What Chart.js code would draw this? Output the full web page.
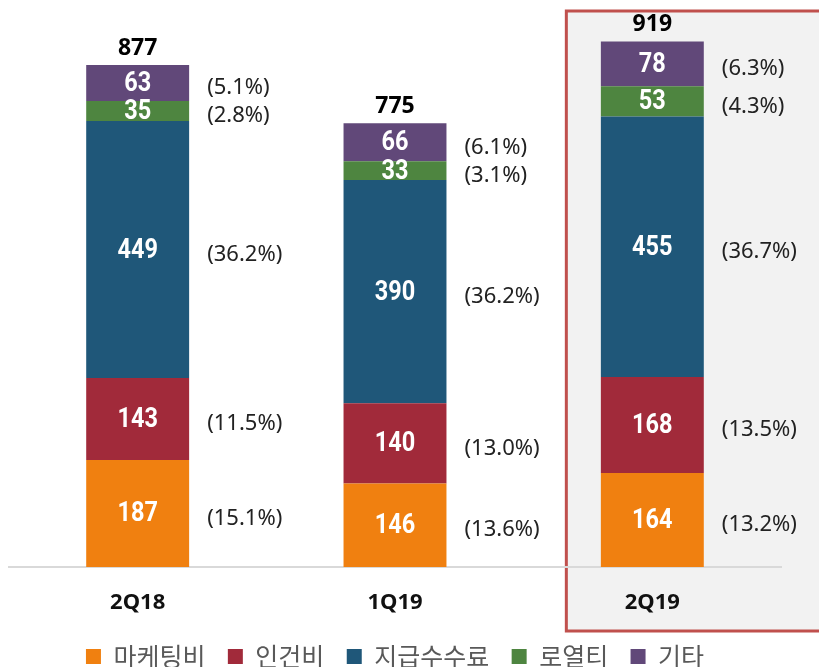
<!DOCTYPE html>
<html>
<head>
<meta charset="utf-8">
<script src="https://cdn.jsdelivr.net/npm/chart.js@4"></script>
<style>
  html, body { margin: 0; padding: 0; background: #fff; }
  #wrap { width: 819px; height: 667px; position: relative; }
</style>
</head>
<body>
<div id="wrap"><canvas id="costChart"></canvas></div>
<script>
// data
const quarters = ['2Q18', '1Q19', '2Q19'];
const marketing = [187, 146, 164];
const labor = [143, 140, 168];
const fees = [449, 390, 455];
const royalty = [35, 33, 53];
const other = [63, 66, 78];
const totals = [877, 775, 919];
const marketingPct = ['15.1%', '13.6%', '13.2%'];
const laborPct = ['11.5%', '13.0%', '13.5%'];
const feesPct = ['36.2%', '36.2%', '36.7%'];
const royaltyPct = ['2.8%', '3.1%', '4.3%'];
const otherPct = ['5.1%', '6.1%', '6.3%'];

const pctBySeries = [marketingPct, laborPct, feesPct, royaltyPct, otherPct];

// grey box with red frame behind the latest quarter
const highlightBox = {
    id: 'highlightBox',
    beforeDraw(chart) {
        const ctx = chart.ctx;
        const x = chart.scales.x.getPixelForValue(2) - 86;
        ctx.save();
        ctx.fillStyle = '#f2f2f2';
        ctx.fillRect(x, 11, 830 - x, 620);
        ctx.strokeStyle = '#c0504d';
        ctx.lineWidth = 3;
        ctx.strokeRect(x, 11, 830 - x, 620);
        ctx.restore();
    }
};

// values inside, shares beside, totals on top
const barLabels = {
    id: 'barLabels',
    afterDatasetsDraw(chart) {
        const ctx = chart.ctx;
        ctx.save();
        ctx.textBaseline = 'middle';
        chart.data.datasets.forEach((ds, i) => {
            const meta = chart.getDatasetMeta(i);
            meta.data.forEach((bar, j) => {
                const mid = (bar.y + bar.base) / 2;
                // condensed look: squeeze Roboto horizontally
                ctx.save();
                ctx.translate(bar.x, mid + 1);
                ctx.scale(0.84, 1);
                ctx.fillStyle = '#fff';
                ctx.textAlign = 'center';
                ctx.font = 'bold 28px Roboto, sans-serif';
                ctx.fillText(ds.data[j], 0, 0);
                ctx.restore();
                ctx.fillStyle = '#222';
                ctx.textAlign = 'left';
                ctx.font = '22px "Noto Sans", sans-serif';
                ctx.fillText('(' + pctBySeries[i][j] + ')', bar.x + bar.width / 2 + 18, mid + 5);
            });
        });
        const top = chart.getDatasetMeta(chart.data.datasets.length - 1);
        top.data.forEach((bar, j) => {
            ctx.fillStyle = '#000';
            ctx.textAlign = 'center';
            ctx.font = 'bold 23px "Noto Sans", sans-serif';
            ctx.fillText(totals[j], bar.x, bar.y - 17);
        });
        ctx.restore();
    }
};

new Chart(document.getElementById('costChart'), {
    type: 'bar',
    data: {
        labels: quarters,
        datasets: [
            { label: '마케팅비', data: marketing, backgroundColor: '#f08010' },
            { label: '인건비', data: labor, backgroundColor: '#a12a3a' },
            { label: '지급수수료', data: fees, backgroundColor: '#1f5779' },
            { label: '로열티', data: royalty, backgroundColor: '#4e8540' },
            { label: '기타', data: other, backgroundColor: '#614879' }
        ]
    },
    options: {
        responsive: true,
        maintainAspectRatio: false,
        animation: false,
        layout: { padding: { top: 6, left: 9, right: 38, bottom: -12 } },
        datasets: { bar: { barPercentage: 0.4, categoryPercentage: 1, borderWidth: 0 } },
        scales: {
            x: {
                stacked: true,
                grid: { display: false },
                border: { display: true, color: '#d9d9d9', width: 2 },
                ticks: { color: '#111', font: { family: 'Noto Sans', size: 22, weight: 'bold' }, padding: 15 },
                afterFit(scale) { scale.height = 77; }
            },
            y: { stacked: true, display: false, min: 0, max: 980 }
        },
        plugins: {
            tooltip: { enabled: false },
            legend: {
                position: 'bottom',
                labels: {
                    boxWidth: 15,
                    boxHeight: 15,
                    color: '#595959',
                    padding: 0,
                    font: { family: 'Noto Sans CJK KR', size: 25, lineHeight: 1 },
                    generateLabels(chart) {
                        const items = Chart.defaults.plugins.legend.labels.generateLabels(chart);
                        items.forEach((it, k) => {
                            if (k < items.length - 1) it.text = it.text + '    ';
                        });
                        return items;
                    }
                }
            }
        }
    },
    plugins: [highlightBox, barLabels]
});
</script>
</body>
</html>
